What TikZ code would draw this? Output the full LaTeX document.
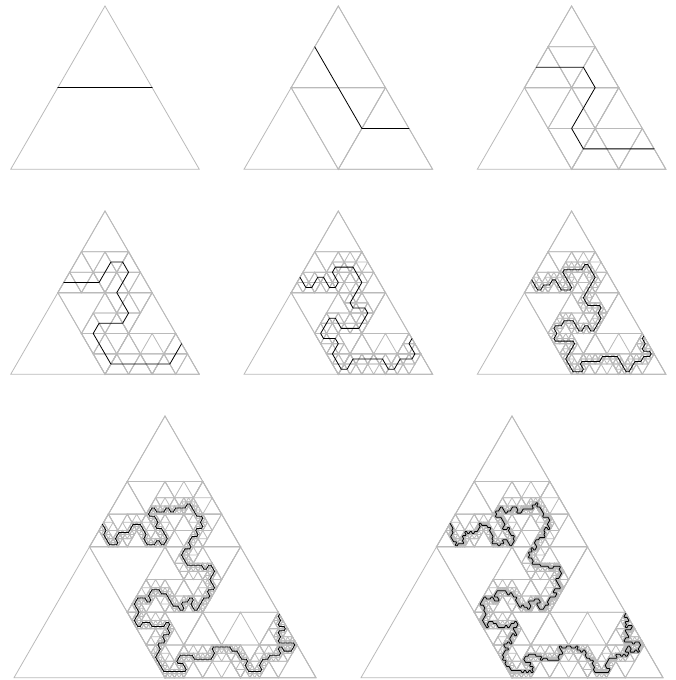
\documentclass[tikz,border=0pt]{standalone}
\usepackage{tikz}

\tikzset{
    trigrid/.style={draw=black!27, line width=0.8pt, line join=miter},
    wander/.style={draw=black, line width=0.8pt, line join=round, line cap=round},
}

%% ---- HELPERS ----
\newcommand{\midof}[2]{\the\numexpr(#1+#2)/2\relax}
\newcommand{\samept}[6]{\ifnum#1=#3 \ifnum#2=#4 #5\else #6\fi\else #6\fi}
\newcommand{\setabc}[6]{\edef\Ax{#1}\edef\Ay{#2}\edef\Bx{#3}\edef\By{#4}\edef\Cx{#5}\edef\Cy{#6}}
\newcommand{\findabc}[4]{%
    \samept{\lastux}{\lastuy}{#1}{#2}{\setabc{\lastux}{\lastuy}{\lastvx}{\lastvy}{#3}{#4}}{%
    \samept{\lastux}{\lastuy}{#3}{#4}{\setabc{\lastux}{\lastuy}{\lastvx}{\lastvy}{#1}{#2}}{%
    \samept{\lastvx}{\lastvy}{#1}{#2}{\setabc{\lastvx}{\lastvy}{\lastux}{\lastuy}{#3}{#4}}{%
    \setabc{\lastvx}{\lastvy}{\lastux}{\lastuy}{#1}{#2}}}}%
    \edef\Mabx{\midof\Ax\Bx}\edef\Maby{\midof\Ay\By}%
    \edef\Macx{\midof\Ax\Cx}\edef\Macy{\midof\Ay\Cy}%
    \edef\Mbcx{\midof\Bx\Cx}\edef\Mbcy{\midof\By\Cy}%
}
\newcommand{\keeplast}[4]{\edef\lastux{#1}\edef\lastuy{#2}\edef\lastvx{#3}\edef\lastvy{#4}}

%% ---- BIT SOURCE ----
\newcount\seedc \seedc=4711
\newcount\tmpc
\newcommand{\popbitaux}{}
\def\popbitaux#1#2\relax{\def\curbit{#1}\def\bitsleft{#2}}
\newcommand{\popbit}{%
    \ifx\bitsleft\empty
        \tmpc=\numexpr\seedc*75+74\relax
        \divide\tmpc by 65537
        \seedc=\numexpr\seedc*75+74-\tmpc*65537\relax
        \ifodd\seedc \def\curbit{1}\else \def\curbit{0}\fi
    \else
        \expandafter\popbitaux\bitsleft\relax
    \fi
}

%% ---- ONE REFINING STEP ----
\newcommand{\addedge}[4]{\edef\newlist{\unexpanded\expandafter{\newlist}\noexpand\E{#1}{#2}{#3}{#4}}}
\newcommand{\refineedge}[4]{%
    \popbit
    \ifnum#2=#4 \edef\keyu{#1}\edef\keyv{#3}\else \edef\keyu{-#2}\edef\keyv{-#4}\fi
    \ifnum\numexpr(\keyu-\keyv)*(1-2*\curbit)\relax<0
        \edef\curwx{#1}\edef\curwy{#2}\else \edef\curwx{#3}\edef\curwy{#4}\fi
    \ifnum\isfirst=0
        \findabc{#1}{#2}{#3}{#4}%
        \addedge{\lastwx}{\lastwy}{\Mabx}{\Maby}%
        \samept{\lastwx}{\lastwy}{\Ax}{\Ay}{%
            \samept{\curwx}{\curwy}{\Ax}{\Ay}{}{%
                \addedge{\Mabx}{\Maby}{\Macx}{\Macy}%
                \addedge{\Macx}{\Macy}{\Mbcx}{\Mbcy}}%
        }{%
            \addedge{\Mabx}{\Maby}{\Mbcx}{\Mbcy}%
            \samept{\curwx}{\curwy}{\Ax}{\Ay}{%
                \addedge{\Mabx}{\Maby}{\Macx}{\Macy}}{%
                \addedge{\Mbcx}{\Mbcy}{\Macx}{\Macy}}%
        }%
    \fi
    \def\isfirst{0}%
    \keeplast{#1}{#2}{#3}{#4}%
    \edef\lastwx{\curwx}\edef\lastwy{\curwy}%
    \edef\lastmx{\midof{#1}{#3}}\edef\lastmy{\midof{#2}{#4}}%
}
\newcommand{\refine}[3]{%
    \def\bitsleft{#3}\def\newlist{}\def\isfirst{1}%
    \let\E\refineedge
    \csname edges#1\endcsname
    \addedge{\lastwx}{\lastwy}{\lastmx}{\lastmy}%
    \expandafter\let\csname edges#2\endcsname\newlist
}

%% ---- THE LEVELS ----
\expandafter\def\csname edges1\endcsname{\E{256}{256}{0}{0}\E{256}{256}{512}{0}}
\refine{1}{2}{01}
\refine{2}{3}{1111}
\refine{3}{4}{1100101110}
\refine{4}{5}{01010110111111000010001010}
\refine{5}{6}{10101110110101110100000100001110101111011111111011011100010111101110}
\refine{6}{7}{}
\refine{7}{8}{}

%% ---- DRAWING ONE LEVEL ----
\newcommand{\gridlevel}[1]{%
    \def\isfirst{1}%
    \def\E##1##2##3##4{%
        \ifnum\isfirst=0
            \findabc{##1}{##2}{##3}{##4}%
            \draw[trigrid] (\Ax,\Ay) -- (\Bx,\By) -- (\Cx,\Cy) -- cycle;
            \ifnum#1<\lvl
                \draw[trigrid] (\Mabx,\Maby) -- (\Macx,\Macy) -- (\Mbcx,\Mbcy) -- cycle;
            \fi
        \fi
        \def\isfirst{0}\keeplast{##1}{##2}{##3}{##4}}%
    \csname edges#1\endcsname
}
\newcommand{\curvelevel}[1]{%
    \def\curvepath{}\def\curvejoin{}%
    \def\E##1##2##3##4{%
        \edef\curvepath{\unexpanded\expandafter{\curvepath}\curvejoin(\midof{##1}{##3},\midof{##2}{##4})}%
        \def\curvejoin{--}}%
    \csname edges#1\endcsname
    \edef\curvecmd{\noexpand\draw[wander] \unexpanded\expandafter{\curvepath};}\curvecmd
}

\begin{document}
\begin{tikzpicture}[x=1pt, y=1pt]
\useasboundingbox (0,0) rectangle (675,680);

%% ---- PANELS ----
\foreach \px/\py/\wd/\ht/\lvl in {
    10.7/510.7/188.6/163.3/1,
    244/510.7/188.6/163.3/2,
    477.3/510.7/188.6/163.3/3,
    10.7/305.7/188.6/163.3/4,
    244/305.7/188.6/163.3/5,
    477.3/305.7/188.6/163.3/6,
    14/2.3/302/261.7/7,
    361/2.3/302/261.7/8} {
    \begin{scope}[shift={(\px,\py)}, x=\wd pt/512, y=\ht pt/256]
        \foreach \j in {1,...,\lvl} {\gridlevel{\j}}
        \curvelevel{\lvl}
    \end{scope}
}

\end{tikzpicture}
\end{document}
